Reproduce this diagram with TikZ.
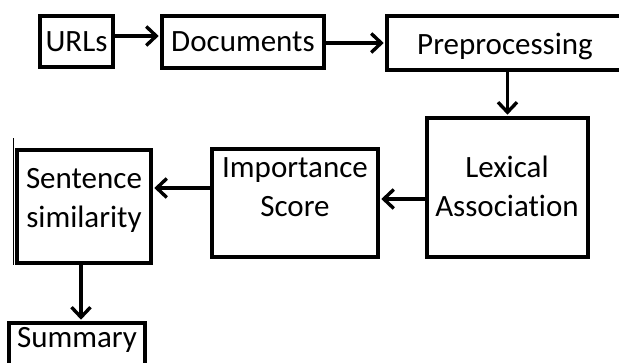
\documentclass[tikz,border=0pt]{standalone}
\usepackage{fontspec}
\setmainfont{Carlito}[Ligatures=NoCommon]
\usetikzlibrary{arrows.meta}
\begin{document}
\begin{tikzpicture}[x=1pt,y=1pt,
  box/.style={draw=black, line width=3.6pt, inner sep=0pt},
  txt/.style={font=\fontsize{31}{39}\selectfont, align=center, anchor=base, inner sep=0pt},
  arr/.style={line width=3.4pt, -{Straight Barb[length=10pt,width=19pt]}, shorten >=1.5pt}]
\useasboundingbox (0,0) rectangle (619,363);
\clip (0,0) rectangle (619,363);

% boxes
\node[box, minimum width=73pt,  minimum height=51pt]  (urls) at (76.5,321.5) {};
\node[box, minimum width=162pt, minimum height=52pt]  (docs) at (243,321)    {};
\node[box, minimum width=263pt, minimum height=54pt]  (pre)  at (518.5,320)  {};
\node[box, minimum width=161pt, minimum height=139pt] (lex)  at (507.5,175.5) {};
\node[box, minimum width=166pt, minimum height=108pt] (imp)  at (295,160)    {};
\node[box, minimum width=134pt, minimum height=113pt] (sent) at (84,156.5)   {};
\node[box, minimum width=136pt, minimum height=60pt]  (sum)  at (77,10)      {};
% thickened left side of the sentence box, running a little above it
\draw[line width=1.6pt] ([xshift=-1.8pt]sent.south west) -- ([xshift=-1.8pt,yshift=10pt]sent.north west);

% labels (base = baseline of the last line)
\node[txt] (turls) at (76.5,311) {URLs};
\node[txt] (tdocs) at (243,311)  {Documents};
\node[txt] (tpre)  at (505,308)  {Preprocessing};
\node[txt] (tlex)  at (507,146)  {Lexical\\Association};
\node[txt] (timp)  at (295,146)  {Importance\\Score};
\node[txt] (tsent) at (84,135)   {Sentence\\similarity};
\node[txt] (tsum)  at (77,15)    {Summary};

% connectors
\coordinate (a1) at ([yshift=5.5pt]urls.east);
\draw[arr] (a1) -- (a1 -| docs.west);
\coordinate (a2) at ([yshift=-1pt]docs.east);
\draw[arr] (a2) -- (a2 -| pre.west);
\coordinate (a3) at (lex.north |- pre.south);
\draw[arr] (a3) -- (lex.north);
\coordinate (a4) at ([yshift=-11.5pt]lex.west);
\draw[arr] (a4) -- (a4 -| imp.east);
\coordinate (a5) at ([yshift=15pt]imp.west);
\draw[arr] (a5) -- (a5 -| sent.east);
\coordinate (a6) at ([xshift=-3pt]sent.south);
\draw[arr] (a6) -- (a6 |- sum.north);
\end{tikzpicture}
\end{document}
